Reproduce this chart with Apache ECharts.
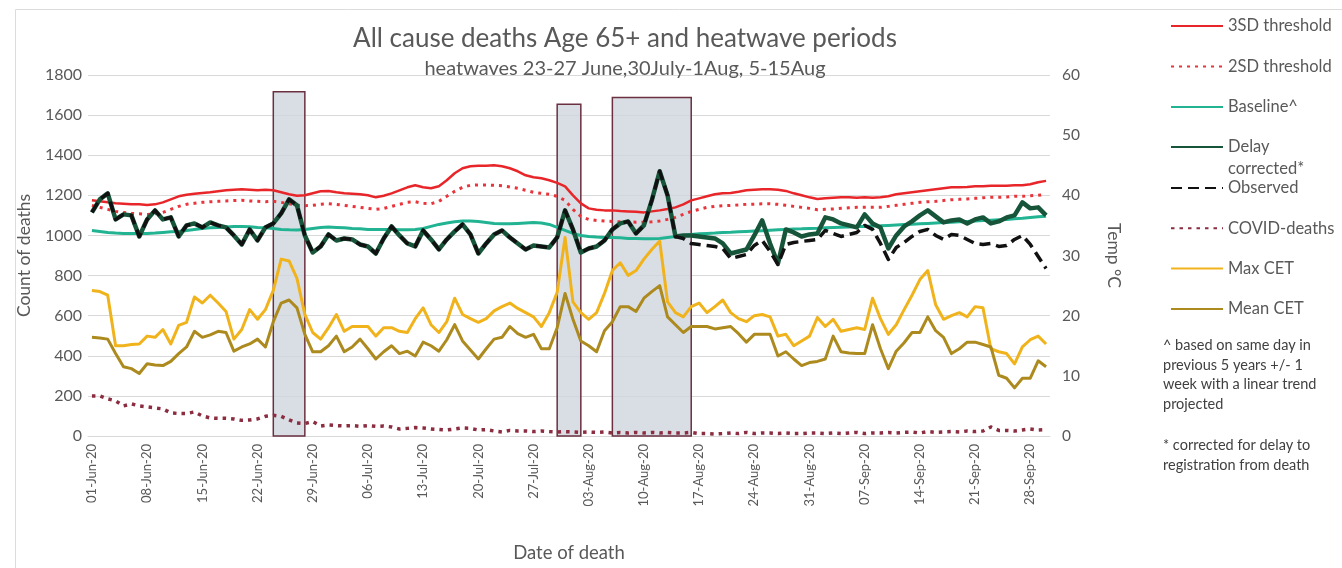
<!DOCTYPE html>
<html>
<head>
<meta charset="utf-8">
<script src="https://cdn.jsdelivr.net/npm/echarts@6/dist/echarts.min.js"></script>
<style>html,body{margin:0;padding:0;background:#fff;}#c{width:1342px;height:568px;}</style>
</head>
<body>
<div id="c"></div>
<script>
// ---- categories (daily, 01-Jun-20 .. 30-Sep-20)
const monthSpec = [['Jun', 30], ['Jul', 31], ['Aug', 31], ['Sep', 30]];
const dates = [];
monthSpec.forEach(([m, n]) => { for (let d = 1; d <= n; d++) dates.push((d < 10 ? '0' : '') + d + '-' + m + '-20'); });

// ---- deaths (left axis)
const sd3 = [1175,1170,1165,1160,1158,1155,1155,1152,1155,1165,1180,1195,1203,1208,1212,1215,1220,1225,1228,1230,
1228,1225,1228,1225,1215,1205,1198,1200,1210,1220,1222,1215,1210,1208,1205,1200,1190,1198,1210,1225,
1240,1250,1240,1235,1245,1275,1310,1335,1345,1348,1348,1350,1345,1335,1320,1300,1290,1285,1275,1262,
1245,1200,1160,1135,1128,1125,1125,1122,1120,1118,1115,1120,1125,1132,1140,1155,1175,1185,1195,1205,
1210,1212,1218,1225,1228,1230,1230,1228,1222,1210,1200,1190,1182,1185,1188,1190,1190,1188,1190,1188,
1190,1195,1205,1210,1215,1220,1225,1230,1235,1240,1240,1242,1245,1245,1248,1248,1248,1250,1250,1255,1265,1272];
const sd2 = [1150,1140,1130,1120,1115,1110,1108,1105,1108,1115,1130,1145,1155,1160,1165,1168,1170,1172,1174,1175,
1172,1170,1168,1170,1165,1158,1150,1148,1150,1155,1158,1155,1150,1145,1140,1135,1130,1135,1145,1155,
1165,1168,1160,1158,1170,1195,1220,1240,1250,1252,1252,1250,1248,1242,1235,1225,1215,1210,1205,1195,
1175,1130,1095,1080,1075,1072,1070,1068,1068,1066,1066,1068,1072,1080,1090,1105,1120,1130,1140,1145,
1148,1150,1152,1155,1156,1158,1158,1155,1150,1145,1140,1135,1128,1130,1132,1135,1138,1140,1140,1140,
1140,1145,1150,1155,1160,1165,1168,1170,1174,1178,1180,1182,1185,1188,1190,1190,1192,1195,1195,1198,1200,1205];
const baseline = [1025,1020,1015,1012,1010,1010,1010,1010,1012,1015,1018,1020,1025,1030,1035,1038,1040,1042,1045,1045,
1043,1040,1038,1035,1030,1028,1027,1030,1035,1040,1042,1040,1038,1035,1033,1030,1030,1030,1030,1028,
1028,1030,1035,1045,1055,1062,1068,1072,1072,1070,1065,1060,1058,1058,1060,1062,1064,1062,1055,1040,
1025,1010,1000,995,992,990,990,988,985,985,983,983,985,990,995,1000,1005,1008,1010,1012,
1015,1016,1018,1020,1022,1024,1026,1028,1030,1032,1033,1035,1036,1038,1040,1041,1042,1044,1045,1047,
1048,1050,1052,1054,1056,1058,1060,1062,1064,1066,1068,1070,1072,1074,1076,1078,1080,1083,1086,1090,1093,1096];
const delayCorrected = [1115,1180,1210,1080,1105,1100,995,1080,1125,1080,1090,995,1050,1060,1040,1065,1050,1040,1000,955,
1030,975,1040,1060,1110,1180,1150,1000,915,945,1005,975,985,980,955,945,910,985,1045,1000,
960,945,1025,980,930,980,1020,1055,1005,910,960,1005,1025,990,960,930,950,945,940,990,
1125,1030,915,935,945,975,1030,1060,1070,1010,1050,1175,1320,1200,995,1000,1000,995,990,985,
960,910,920,930,1000,1075,960,860,1030,1015,995,1005,1010,1090,1080,1060,1050,1040,1105,1060,
1040,935,1000,1045,1070,1100,1125,1095,1065,1075,1080,1060,1080,1090,1060,1070,1090,1100,1165,1135,1140,1100];
const observed = [1115,1180,1210,1080,1105,1100,995,1080,1125,1080,1090,995,1050,1060,1040,1065,1050,1040,1000,955,
1030,975,1040,1060,1110,1180,1150,1000,915,945,1005,975,985,980,955,945,910,985,1045,1000,
960,945,1025,980,930,980,1020,1055,1005,910,960,1005,1025,990,960,930,950,945,940,990,
1125,1030,915,935,945,975,1030,1060,1070,1010,1050,1175,1320,1200,995,985,960,955,950,945,
935,885,895,905,950,975,920,855,955,965,970,975,980,1025,1010,995,1005,1015,1050,1030,
960,880,940,965,995,1020,1030,1000,980,1005,1000,980,960,955,960,945,950,980,1000,955,895,835];
const covidDeaths = [200,200,185,175,150,160,150,145,140,135,115,112,112,120,100,90,88,88,85,78,
80,85,98,103,98,80,65,62,72,50,55,52,50,52,48,52,48,50,45,35,
38,42,40,35,33,30,35,40,38,30,32,25,20,28,25,25,22,25,22,20,
22,20,18,20,18,20,15,18,15,18,15,18,15,18,15,15,18,12,12,10,
12,15,12,18,12,15,15,12,15,12,12,15,15,12,15,12,15,18,12,15,
15,18,15,18,20,15,22,18,20,22,20,25,22,25,45,28,28,25,30,35,30,32];

// ---- temperatures (right axis, deg C)
const maxCET = [24.2,24,23.4,15,15,15.2,15.3,16.6,16.4,17.7,15.3,18.4,18.9,23.1,22.1,23.4,22.1,20.7,16.1,17.7,
21,19.4,21,24.2,29.4,29.1,26.2,20.2,17.2,16.1,18,20.2,17.4,18.2,18.2,18.2,16.6,18,18,17.4,
17.2,19.5,21.3,18.5,17.2,19,22.9,20.2,19.5,18.9,19.5,20.8,21.5,22.1,21.2,20.5,19.8,18.2,20.5,23.9,
33,22.3,20.5,19.4,20.5,23.7,27.5,28.8,26.7,27.5,29.4,31,32.4,22.3,20.5,19.8,21.5,22.1,20.5,21.5,
22.6,20.5,19.5,19,20,20.2,19.8,16.6,16.9,15,15.8,16.6,19.7,18.2,19.4,17.4,17.7,18,17.7,22.9,
19.5,16.9,18.5,21,23.4,26,27.5,21.8,19.4,20,20.5,19.8,21.5,21.3,14.5,14,13.7,12,14.8,16,16.6,15.3];
const meanCET = [16.4,16.3,16.1,13.7,11.5,11.2,10.4,12,11.8,11.7,12.4,13.7,14.8,17.4,16.4,16.8,17.4,17.2,14.1,14.8,
15.3,16.1,14.8,19,22.1,22.6,21.3,16.9,14,14,15,16.6,14,14.8,16.1,14.5,12.8,14,15,13.7,
14.1,13.3,15.6,15,14.1,16,18.5,15.8,14.3,12.8,14.5,16.1,16.4,18.2,17,16.4,16.9,14.5,14.5,18,
23.7,19.4,15.8,15,14,17.5,19,21.5,21.5,20.7,22.9,24,25,19.8,18.5,17.2,18.2,18.2,18.2,17.8,
18,18.2,17,15.6,16.9,16.9,16.9,13.3,14,12.8,11.7,12.2,12.4,12.8,16.6,14,13.8,13.7,13.7,18.5,
14.5,11.2,14.1,15.5,17.2,17.2,19.8,17.5,16.4,13.7,14.5,15.6,15.6,15.2,14.8,10.1,9.6,8,9.6,9.6,12.5,11.5];

// ---- heatwave boxes
const hwStart = ['24-Jun-20', '30-Jul-20', '06-Aug-20'];
const hwEnd = ['28-Jun-20', '02-Aug-20', '16-Aug-20'];
const hwTop = [1717, 1654, 1688];

// ---- axis ticks
const leftTicks = {min: 0, max: 1800, interval: 200};
const rightTicks = {min: 0, max: 60, interval: 10};

const FONT = 'Lato';
const GREY = '#595959';

const chart = echarts.init(document.getElementById('c'), null, {renderer: 'canvas'});

function line(name, data, color, width, type, yIdx, extra) {
  return Object.assign({
    name, type: 'line', data, yAxisIndex: yIdx || 0,
    symbol: 'none', showSymbol: false, silent: true, animation: false,
    lineStyle: {color, width, type: type || 'solid', cap: 'butt', join: 'round'},
    itemStyle: {color}
  }, extra || {});
}

const legendText = {fontFamily: FONT, fontSize: 16.5, color: GREY, lineHeight: 18};
const legendCommon = {
  orient: 'vertical', left: 1170, padding: 0, itemWidth: 52, itemHeight: 14, selectedMode: false,
  itemStyle: {opacity: 0}, textStyle: legendText, itemGap: 22.5
};

const option = {
  backgroundColor: '#fff',
  animation: false,
  title: [
    {text: 'All cause deaths Age 65+ and heatwave periods', left: 620, top: 21, textAlign: 'center',
     textStyle: {fontFamily: FONT, fontSize: 26, fontWeight: 'normal', color: GREY}},
    {text: 'heatwaves 23-27 June,30July-1Aug, 5-15Aug', left: 620, top: 54, textAlign: 'center',
     textStyle: {fontFamily: FONT, fontSize: 20, fontWeight: 'normal', color: GREY}}
  ],
  grid: {left: 88, right: 292, top: 75, bottom: 124, containLabel: false},
  legend: [
    Object.assign({}, legendCommon, {top: 17, data: ['3SD threshold', '2SD threshold', 'Baseline^']}),
    Object.assign({}, legendCommon, {top: 114, data: ['Delay corrected*'],
      formatter: () => ' \nDelay\ncorrected*',
      textStyle: Object.assign({}, legendText, {lineHeight: 22})}),
    Object.assign({}, legendCommon, {top: 179, itemGap: 22.3, data: ['Observed', 'COVID-deaths', 'Max CET', 'Mean CET']})
  ],
  xAxis: {
    type: 'category', data: dates, boundaryGap: true,
    name: 'Date of death', nameLocation: 'middle', nameGap: 108,
    nameTextStyle: {fontFamily: FONT, fontSize: 18.5, color: GREY},
    axisLine: {lineStyle: {color: '#d9d9d9', width: 1}},
    axisTick: {show: false},
    axisLabel: {interval: 6, rotate: 90, fontFamily: FONT, fontSize: 13, color: GREY, margin: 8}
  },
  yAxis: [
    Object.assign({type: 'value', position: 'left',
      name: 'Count of deaths', nameLocation: 'middle', nameGap: 55, nameRotate: 90,
      nameTextStyle: {fontFamily: FONT, fontSize: 17.5, color: GREY},
      axisLine: {show: false}, axisTick: {show: false},
      axisLabel: {fontFamily: FONT, fontSize: 16, color: GREY, margin: 6, formatter: v => String(v)},
      splitLine: {lineStyle: {color: '#d9d9d9', width: 1}}}, leftTicks),
    Object.assign({type: 'value', position: 'right',
      name: 'Temp °C', nameLocation: 'middle', nameGap: 55, nameRotate: -90,
      nameTextStyle: {fontFamily: FONT, fontSize: 17.5, color: GREY},
      axisLine: {show: false}, axisTick: {show: false},
      axisLabel: {fontFamily: FONT, fontSize: 15.5, color: GREY, margin: 12, formatter: v => String(v)},
      splitLine: {show: false}}, rightTicks)
  ],
  series: [
    {
      name: 'Heatwave', type: 'line', data: [], silent: true,
      markArea: {
        silent: true,
        itemStyle: {color: 'rgba(208,214,222,0.8)', borderColor: '#6b3040', borderWidth: 1.5},
        data: hwStart.map((s, k) => [{xAxis: s, yAxis: 0}, {xAxis: hwEnd[k], yAxis: hwTop[k]}])
      }
    },
    line('3SD threshold', sd3, '#e8262a', 2.5),
    line('2SD threshold', sd2, '#e8343a', 3, [3, 5]),
    line('Baseline^', baseline, '#22b393', 3),
    line('COVID-deaths', covidDeaths, '#8b2c40', 3.5, [3.5, 5]),
    line('Max CET', maxCET, '#f1b31c', 3, 'solid', 1),
    line('Mean CET', meanCET, '#ad8a1e', 3, 'solid', 1),
    line('Delay corrected*', delayCorrected, '#17553a', 4.5),
    line('Observed', observed, '#111111', 3.5, [11, 6])
  ],
  graphic: [
    {type: 'rect', left: 13, top: 7, shape: {width: 1345, height: 575},
     style: {fill: 'none', stroke: '#dcdcdc', lineWidth: 1}, silent: true, z: -10},
    {type: 'text', left: 1163, top: 336, style: {
      text: '^ based on same day in\nprevious 5 years +/- 1\nweek with a linear trend\nprojected',
      fontFamily: FONT, fontSize: 14.5, lineHeight: 19.5, fill: '#404040'}},
    {type: 'text', left: 1163, top: 436, style: {
      text: '* corrected for delay to\nregistration from death',
      fontFamily: FONT, fontSize: 14.5, lineHeight: 19.5, fill: '#404040'}}
  ]
};
chart.setOption(option);
</script>
</body>
</html>
